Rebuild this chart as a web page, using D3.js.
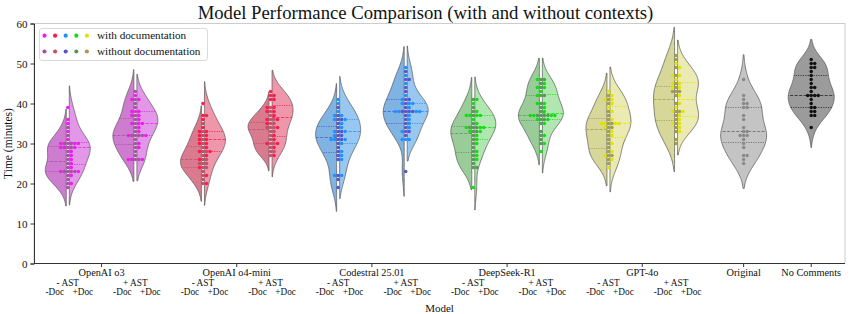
<!DOCTYPE html>
<html>
<head>
<meta charset="utf-8">
<script src="https://cdn.jsdelivr.net/npm/d3@7"></script>
<style>
  body { margin: 0; background: #fff; }
  text { font-family: "Liberation Serif", "DejaVu Serif", serif; fill: #111; }
</style>
</head>
<body>
<svg id="chart" width="851" height="314"></svg>
<script>
// ---- data (minutes) ----
const models = ["OpenAI o3", "OpenAI o4-mini", "Codestral 25.01", "DeepSeek-R1", "GPT-4o"];
const baselines = ["Original", "No Comments"];
const yTicks = [0, 10, 20, 30, 40, 50, 60];

// without documentation (left half) / with documentation (right half)
const o3NoAstNoDoc = [34, 32, 30, 30, 30, 29, 29, 28, 27, 26, 25, 24, 23, 23, 23, 23, 22, 21, 20, 19];
const o3NoAstDoc   = [39, 36, 35, 33, 31, 30, 30, 30, 29, 29, 29, 28, 27, 26, 25, 24, 23, 23, 22, 20];
const o3AstNoDoc   = [43, 41, 40, 39, 37, 36, 35, 34, 33, 32, 32, 32, 32, 31, 30, 29, 28, 27, 26, 26];
const o3AstDoc     = [42, 41, 41, 38, 38, 38, 37, 37, 36, 35, 35, 35, 34, 33, 32, 32, 30, 29, 26, 26, 26];
const o4NoAstNoDoc = [35, 33, 32, 31, 30, 29, 28, 28, 27, 26, 26, 25, 25, 25, 24, 24, 23, 22, 21, 20];
const o4NoAstDoc   = [40, 37, 37, 36, 34, 33, 33, 32, 32, 31, 31, 30, 30, 29, 28, 28, 27, 26, 24, 22, 20];
const o4AstNoDoc   = [39, 38, 37, 36, 36, 35, 35, 34, 34, 34, 33, 33, 32, 31, 30, 30, 29, 28, 28, 27];
const o4AstDoc     = [43, 42, 42, 41, 41, 39, 39, 38, 38, 37, 36, 36, 35, 34, 32, 31, 30, 30, 29, 27];
const csNoAstNoDoc = [39, 37, 36, 36, 35, 34, 33, 33, 32, 32, 31, 31, 30, 29, 28, 27, 26, 22, 21, 19];
const csNoAstDoc   = [41, 40, 38, 37, 37, 36, 36, 35, 34, 33, 33, 32, 31, 31, 31, 30, 28, 27, 26, 22, 22];
const csAstNoDoc   = [48, 46, 46, 44, 43, 41, 41, 40, 39, 38, 38, 38, 38, 37, 36, 35, 34, 33, 33, 32, 23];
const csAstDoc     = [49, 47, 45, 42, 41, 40, 40, 40, 39, 38, 38, 38, 38, 37, 36, 35, 34, 33, 31, 31, 31];
const dsNoAstNoDoc = [41, 39, 38, 37, 35, 34, 34, 34, 33, 33, 32, 31, 30, 29, 28, 27, 26, 25, 24, 24];
const dsNoAstDoc   = [41, 40, 38, 37, 37, 37, 37, 36, 35, 34, 34, 34, 33, 33, 32, 31, 30, 28, 27, 26, 19];
const dsAstNoDoc   = [46, 46, 45, 44, 42, 42, 40, 39, 38, 37, 37, 37, 37, 36, 36, 35, 33, 32, 31, 30];
const dsAstDoc     = [46, 45, 44, 44, 43, 42, 40, 40, 39, 38, 37, 37, 37, 37, 36, 36, 35, 32, 30, 28];
const gpNoAstNoDoc = [42, 41, 40, 38, 37, 36, 35, 35, 34, 34, 33, 32, 31, 30, 29, 28, 27, 27, 26, 25];
const gpNoAstDoc   = [43, 42, 41, 41, 40, 39, 38, 36, 35, 35, 35, 35, 34, 33, 32, 30, 28, 27, 26, 24];
const gpAstNoDoc   = [52, 51, 49, 47, 45, 44, 43, 43, 43, 42, 40, 38, 38, 37, 36, 35, 34, 33, 31, 30];
const gpAstDoc     = [50, 49, 47, 47, 46, 45, 45, 44, 44, 42, 40, 39, 38, 38, 37, 36, 35, 35, 34, 33];
const originalTimes   = [46, 42, 41, 40, 40, 39, 39, 37, 36, 34, 33, 33, 32, 32, 32, 31, 30, 29, 27, 27, 26, 25];
const noCommentsTimes = [51, 50, 50, 49, 49, 48, 47, 46, 45, 44, 44, 43, 42, 42, 42, 42, 41, 40, 39, 39, 38, 38, 37, 37, 34];

const withoutDoc = [o3NoAstNoDoc, o3AstNoDoc, o4NoAstNoDoc, o4AstNoDoc, csNoAstNoDoc, csAstNoDoc,
                    dsNoAstNoDoc, dsAstNoDoc, gpNoAstNoDoc, gpAstNoDoc];
const withDoc = [o3NoAstDoc, o3AstDoc, o4NoAstDoc, o4AstDoc, csNoAstDoc, csAstDoc,
                 dsNoAstDoc, dsAstDoc, gpNoAstDoc, gpAstDoc];

// colours per model
const darkFill  = ["#cd7ccf", "#d97a8f", "#7fb3e1", "#99cc99", "#d7d799"];
const lightFill = ["#e397e8", "#ee96aa", "#98c8f1", "#b0e6af", "#eaeab2"];
const darkDot   = ["#a552a5", "#c25068", "#5555cc", "#559955", "#9d9d55"];
const lightDot  = ["#ee1cee", "#ff1a4a", "#1e90ff", "#11dd11", "#e2e200"];
const baseFill  = ["#c4c4c4", "#9b9b9b"];
const baseDot   = ["#8a8a8a", "#111111"];

// ---- layout ----
const svg = d3.select("#chart");
const W = 851, H = 314;
const margin = { top: 23.5, right: 6, bottom: 50.5, left: 34 };
const slots = d3.range(12);
const x = d3.scaleBand().domain(slots).range([margin.left, W - margin.right]).padding(0);
const cx = i => x(i) + x.bandwidth() / 2;
const y = d3.scaleLinear().domain([0, 60]).range([H - margin.bottom, margin.top]);

const DOT_R = 1.75;
const HALF_W = 21;   // max width of one split half
const GAP = 1.5;     // gap between halves
const FULL_W = 23;   // max half width of a plain violin

function kde(vals) {
  const n = vals.length;
  const sd = d3.deviation(vals);
  const bw = sd * Math.pow(n, -0.2);
  const lo = d3.min(vals) - 2 * bw, hi = d3.max(vals) + 2 * bw;
  const f = t => d3.sum(vals, v => Math.exp(-0.5 * ((t - v) / bw) ** 2)) / (n * bw * Math.sqrt(2 * Math.PI));
  const grid = d3.range(0, 121).map(k => lo + (hi - lo) * k / 120);
  const pts = grid.map(t => ({ t, d: f(t) }));
  const maxD = d3.max(pts, p => p.d);
  return { pts, f, maxD };
}

// one half (side = -1 left, +1 right), or full violin (side = 0)
function drawViolin(g, center, vals, fill, lineColor, side) {
  const k = kde(vals);
  const wmax = side === 0 ? FULL_W : HALF_W;
  const off = side === 0 ? 0 : GAP;
  const wd = d => wmax * d / k.maxD;
  const sides = side === 0 ? [-1, 1] : [side];
  let area;
  if (side === 0) {
    area = d3.area().y(p => y(p.t)).x0(p => center - wd(p.d)).x1(p => center + wd(p.d));
  } else {
    area = d3.area().y(p => y(p.t))
      .x0(center + side * off).x1(p => center + side * (off + wd(p.d)));
  }
  g.append("path").attr("d", area(k.pts)).attr("fill", fill)
    .attr("stroke", "#555").attr("stroke-width", 0.9).attr("stroke-opacity", 0.8);

  const sorted = vals.slice().sort(d3.ascending);
  [0.25, 0.5, 0.75].forEach(q => {
    const v = d3.quantile(sorted, q);
    const w = wd(k.f(v));
    sides.forEach(s => {
      g.append("line")
        .attr("x1", center + s * off).attr("x2", center + s * (off + w))
        .attr("y1", y(v)).attr("y2", y(v))
        .attr("stroke", lineColor).attr("stroke-width", 0.8)
        .attr("stroke-dasharray", q === 0.5 ? "3,1.5" : "1.2,1.2");
    });
  });
}

// beeswarm placement around center
function swarm(points, center) {
  const placed = [];
  const d2 = (2 * DOT_R) ** 2;
  points.slice().sort((a, b) => a.v - b.v).forEach(p => {
    const py = y(p.v);
    const cand = [0];
    placed.forEach(q => {
      const dy = q.py - py;
      if (dy * dy < d2) {
        const dx = Math.sqrt(d2 - dy * dy);
        cand.push(q.dx + dx, q.dx - dx);
      }
    });
    cand.sort((a, b) => Math.abs(a) - Math.abs(b));
    const ok = cand.find(c => placed.every(q => (q.dx - c) ** 2 + (q.py - py) ** 2 >= d2 - 1e-6));
    placed.push({ dx: ok, py, color: p.color });
  });
  return placed.map(p => ({ cx: center + p.dx, cy: p.py, color: p.color }));
}

// ---- frame ----
svg.append("rect").attr("x", margin.left).attr("y", margin.top)
  .attr("width", W - margin.right - margin.left).attr("height", y(0) - margin.top)
  .attr("fill", "none").attr("stroke", "#cccccc").attr("stroke-width", 1);

const plot = svg.append("g");

// split violins
withoutDoc.forEach((vals, i) => {
  const m = Math.floor(i / 2);
  drawViolin(plot, cx(i), vals, darkFill[m], darkDot[m], -1);
  drawViolin(plot, cx(i), withDoc[i], lightFill[m], lightDot[m], 1);
});
// plain violins
[originalTimes, noCommentsTimes].forEach((vals, j) => {
  drawViolin(plot, cx(10 + j), vals, baseFill[j], j === 0 ? "#666" : "#222", 0);
});

// swarms
const dots = [];
withoutDoc.forEach((vals, i) => {
  const m = Math.floor(i / 2);
  const pts = vals.map(v => ({ v, color: darkDot[m] }))
    .concat(withDoc[i].map(v => ({ v, color: lightDot[m] })));
  dots.push(...swarm(pts, cx(i)));
});
[originalTimes, noCommentsTimes].forEach((vals, j) => {
  dots.push(...swarm(vals.map(v => ({ v, color: baseDot[j] })), cx(10 + j)));
});
plot.selectAll("circle.dot").data(dots).join("circle").attr("class", "dot")
  .attr("cx", d => d.cx).attr("cy", d => d.cy).attr("r", DOT_R).attr("fill", d => d.color);

// ---- axes ----
const yAxis = svg.append("g").attr("transform", `translate(${margin.left},0)`)
  .call(d3.axisLeft(y).tickValues(yTicks).tickSize(3.5).tickPadding(3));
yAxis.select(".domain").attr("stroke", "#333");
yAxis.selectAll(".tick line").attr("stroke", "#333");
yAxis.selectAll("text").style("font-size", "11px").attr("fill", "#111");

const tickPos = models.map((m, i) => (cx(2 * i) + cx(2 * i + 1)) / 2).concat([cx(10), cx(11)]);
const tickNames = models.concat(baselines);
const xAxis = svg.append("g").attr("transform", `translate(0,${y(0)})`);
xAxis.append("line").attr("x1", margin.left).attr("x2", W - margin.right)
  .attr("stroke", "#333").attr("stroke-width", 1);
tickPos.forEach((p, i) => {
  xAxis.append("line").attr("x1", p).attr("x2", p).attr("y1", 0).attr("y2", 3.5).attr("stroke", "#333");
  xAxis.append("text").attr("x", p).attr("y", 12.8).attr("text-anchor", "middle")
    .style("font-size", "10.3px").text(tickNames[i]);
});
slots.slice(0, 10).forEach(i => {
  const c = cx(i);
  xAxis.append("text").attr("x", c).attr("y", 22.2).attr("text-anchor", "middle")
    .style("font-size", "9.3px").text(i % 2 === 0 ? "- AST" : "+ AST");
  xAxis.append("text").attr("x", c - 13).attr("y", 31).attr("text-anchor", "middle")
    .style("font-size", "9.3px").text("-Doc");
  xAxis.append("text").attr("x", c + 15).attr("y", 31).attr("text-anchor", "middle")
    .style("font-size", "9.3px").text("+Doc");
});

// axis titles
svg.append("text").attr("x", (margin.left + W - margin.right) / 2).attr("y", 311.5)
  .attr("text-anchor", "middle").style("font-size", "11px").text("Model");
svg.append("text").attr("transform", `translate(12,${(margin.top + y(0)) / 2}) rotate(-90)`)
  .attr("text-anchor", "middle").style("font-size", "11.5px").text("Time (minutes)");
svg.append("text").attr("x", W / 2).attr("y", 19).attr("text-anchor", "middle")
  .style("font-size", "18.7px").text("Model Performance Comparison (with and without contexts)");

// ---- legend ----
const lg = svg.append("g");
lg.append("rect").attr("x", 39.5).attr("y", 28.5).attr("width", 168).attr("height", 32).attr("rx", 2.5)
  .attr("fill", "#fff").attr("fill-opacity", 0.85).attr("stroke", "#d0d0d0").attr("stroke-width", 0.8);
[[lightDot, "with documentation", 35.7], [darkDot, "without documentation", 51.5]].forEach(([cols, label, ly]) => {
  cols.forEach((c, k) => {
    lg.append("circle").attr("cx", 44.5 + k * 10.6).attr("cy", ly).attr("r", 2.1).attr("fill", c);
  });
  lg.append("text").attr("x", 97).attr("y", ly + 3.5).style("font-size", "11.2px").text(label);
});
</script>
</body>
</html>
